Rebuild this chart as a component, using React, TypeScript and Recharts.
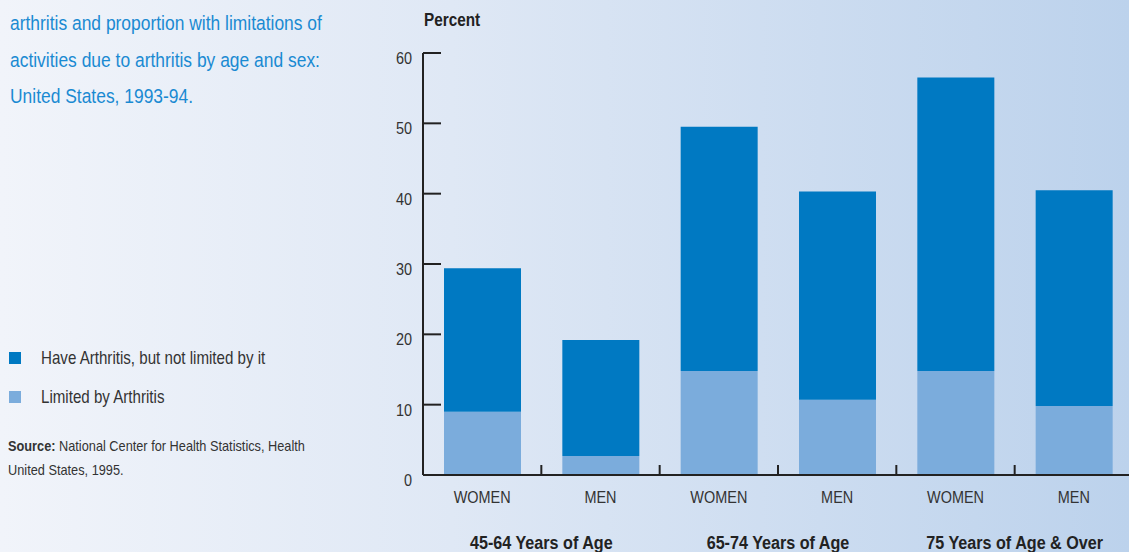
import { BarChart, Bar, XAxis, YAxis } from 'recharts';

const categories = ['WOMEN', 'MEN', 'WOMEN', 'MEN', 'WOMEN', 'MEN'];
const ageGroups = ['45-64 Years of Age', '65-74 Years of Age', '75 Years of Age & Over'];
// percent limited by arthritis
const limited = [9.0, 2.7, 14.8, 10.7, 14.8, 9.8];
// percent with arthritis but not limited by it (stacked on top)
const notLimited = [20.4, 16.5, 34.7, 29.6, 41.7, 30.7];
const yTicks = [0, 10, 20, 30, 40, 50, 60];

const data = categories.map((sex, i) => ({
  sex,
  limited: limited[i],
  notLimited: notLimited[i],
}));

const DARK = '#0079c2';
const LIGHT = '#7bacdc';
const FONT = '"Liberation Sans", Arial, sans-serif';
const NARROW = 0.85; // fake a condensed face

const CHART_W = 1133;
const LEFT = 423;
const BAND = (CHART_W - LEFT) / categories.length;

const YTick = ({ x, y, payload }: any) => (
  <g>
    <line x1={x} x2={x + 18} y1={y} y2={y} stroke="#222" strokeWidth={2} />
    <text
      transform={`translate(${x - 11} ${y + 5}) scale(${NARROW} 1)`}
      dy="0.35em" textAnchor="end" fontSize={17} fill="#333" fontFamily={FONT}
    >
      {payload.value}
    </text>
  </g>
);

const XTick = ({ x, y, payload, index }: any) => (
  <g>
    {index < categories.length - 1 && (
      <line x1={x + BAND / 2} x2={x + BAND / 2} y1={y - 10} y2={y} stroke="#222" strokeWidth={2} />
    )}
    <text
      transform={`translate(${x} ${y + 22}) scale(${NARROW} 1)`}
      dy="0.35em" textAnchor="middle" fontSize={17} fill="#333" fontFamily={FONT}
    >
      {payload.value}
    </text>
    {index % 2 === 1 && (
      <text
        transform={`translate(${x - BAND / 2} ${y + 67}) scale(${NARROW} 1)`}
        dy="0.35em" textAnchor="middle" fontSize={19} fontWeight="bold" fill="#222" fontFamily={FONT}
      >
        {ageGroups[(index - 1) / 2]}
      </text>
    )}
  </g>
);

const narrowBox = { transform: `scaleX(${NARROW})`, transformOrigin: 'left top', whiteSpace: 'nowrap' as const };

export default function App() {
  return (
    <div
      style={{
        position: 'absolute', left: 0, top: 0, width: 1129, height: 552, overflow: 'hidden',
        background: 'linear-gradient(to right, #f1f4fa 0%, #dfe8f5 40%, #bcd2ec 100%)',
        fontFamily: FONT,
      }}
    >
      <div style={{ position: 'absolute', left: 10, top: 5, color: '#1a8ad2', fontSize: 20.5, lineHeight: '36.5px', ...narrowBox }}>
        <div>arthritis and proportion with limitations of</div>
        <div>activities due to arthritis by age and sex:</div>
        <div>United States, 1993-94.</div>
      </div>

      <div style={{ position: 'absolute', left: 9, top: 346 }}>
        <div style={{ display: 'flex', alignItems: 'center', height: 24 }}>
          <span style={{ width: 12, height: 12, background: DARK, display: 'inline-block' }} />
        </div>
        <div style={{ display: 'flex', alignItems: 'center', height: 24, marginTop: 15 }}>
          <span style={{ width: 12, height: 12, background: LIGHT, display: 'inline-block' }} />
        </div>
      </div>
      <div style={{ position: 'absolute', left: 41, top: 346, fontSize: 17.8, color: '#333', ...narrowBox }}>
        <div style={{ height: 24, lineHeight: '24px' }}>Have Arthritis, but not limited by it</div>
        <div style={{ height: 24, lineHeight: '24px', marginTop: 15 }}>Limited by Arthritis</div>
      </div>

      <div style={{ position: 'absolute', left: 8, top: 434, fontSize: 15, color: '#333', lineHeight: '24px', ...narrowBox }}>
        <div><b>Source:</b> National Center for Health Statistics, Health</div>
        <div>United States, 1995.</div>
      </div>

      <div style={{ position: 'absolute', left: 424, top: 10, fontSize: 18, fontWeight: 'bold', color: '#222', ...narrowBox }}>
        Percent
      </div>

      <div style={{ position: 'absolute', left: 0, top: 0 }}>
        <BarChart
          width={CHART_W}
          height={552}
          data={data}
          margin={{ top: 53, right: 0, bottom: 0, left: LEFT - 60 }}
          barSize={77}
        >
          <YAxis
            width={60}
            domain={[0, 60]}
            ticks={yTicks}
            interval={0}
            axisLine={{ stroke: '#222', strokeWidth: 2 }}
            tickLine={false}
            tickSize={0}
            tickMargin={0}
            tick={<YTick />}
          />
          <XAxis
            dataKey="sex"
            interval={0}
            axisLine={{ stroke: '#222', strokeWidth: 2 }}
            tickLine={false}
            tickSize={0}
            tickMargin={0}
            tick={<XTick />}
            height={77}
          />
          <Bar dataKey="limited" stackId="a" fill={LIGHT} isAnimationActive={false} />
          <Bar dataKey="notLimited" stackId="a" fill={DARK} isAnimationActive={false} />
        </BarChart>
      </div>
    </div>
  );
}
